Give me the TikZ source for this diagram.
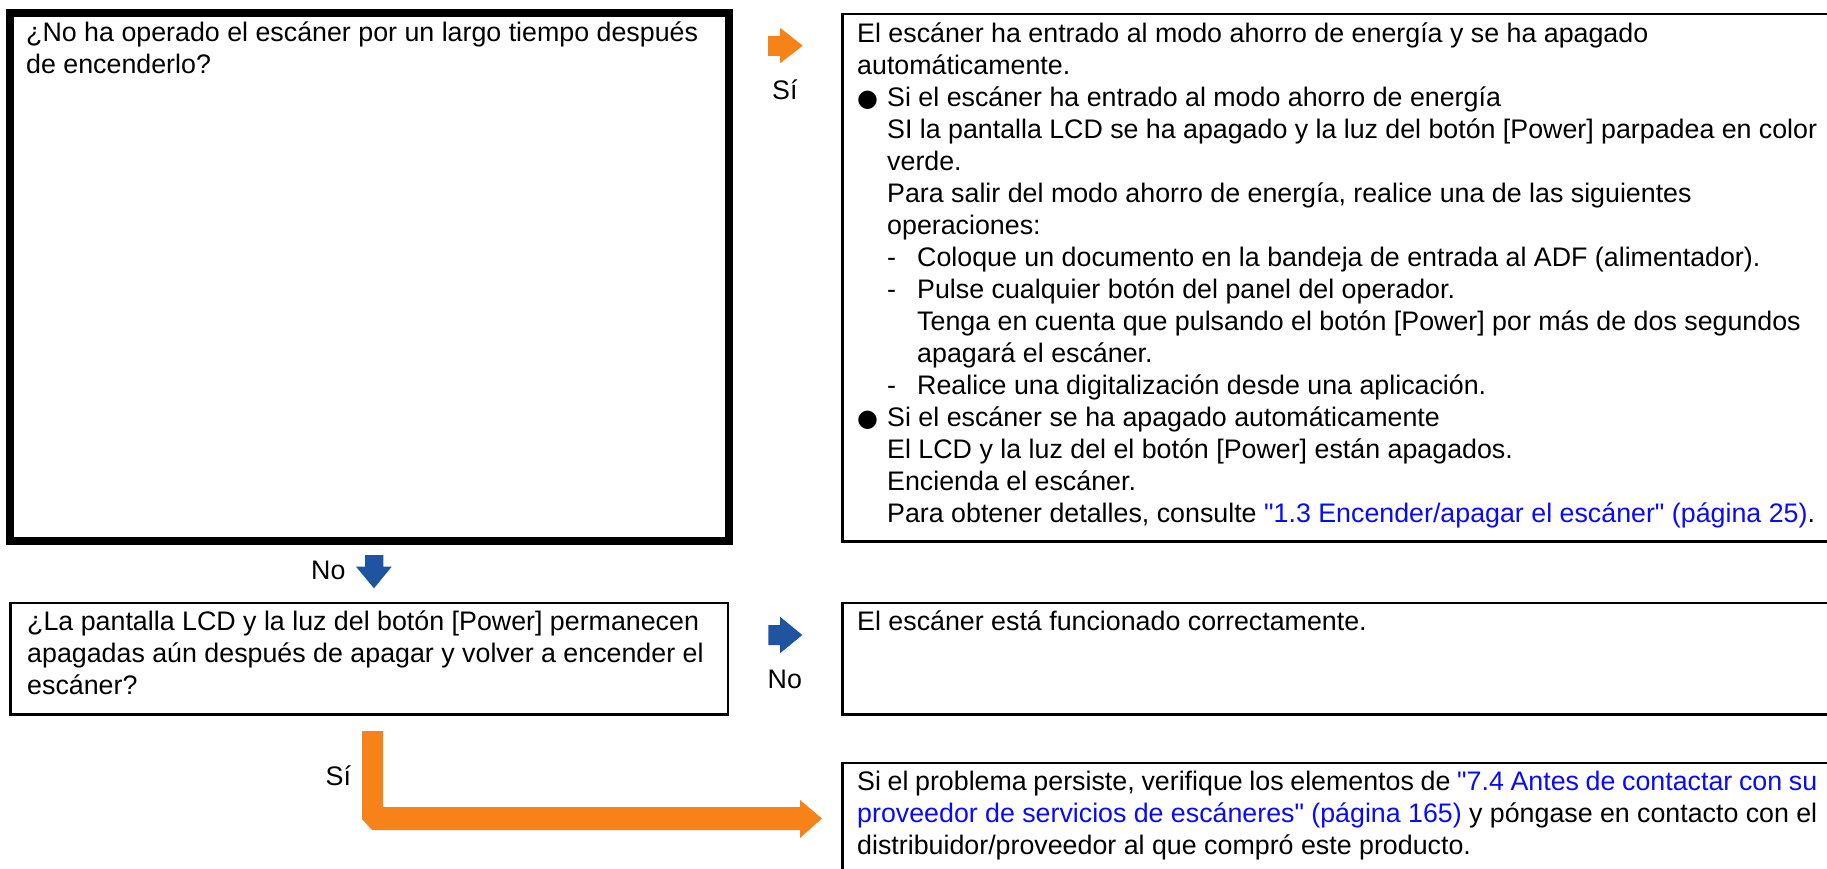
\documentclass[tikz,border=0pt]{standalone}
\usepackage{fontspec}
\setmainfont{Liberation Sans}[Ligatures=TeXOff]
\newfontfamily\symfont{DejaVu Sans}
\usepackage{xcolor}
\usetikzlibrary{positioning}

\definecolor{arrorange}{RGB}{247,130,24}
\definecolor{arrblue}{RGB}{31,84,160}
\definecolor{linkblue}{RGB}{10,10,250}

\newcommand{\bul}{\makebox[30pt][l]{\symfont\fontsize{24}{32}\selectfont ●}}
\newcommand{\dsh}{\makebox[30pt][l]{-}}
\newcommand{\ind}{\hspace*{30pt}}
\newcommand{\lnk}[1]{\textcolor{linkblue}{#1}}
\newcommand{\lines}[2]{\parbox[t]{#1}{\raggedright #2}}

\begin{document}
\begin{tikzpicture}[x=1pt, y=-1pt,
	frame/.style={draw, line width=2.6pt, anchor=north west, inner sep=0pt, outer sep=0pt},
	txt/.style={anchor=base west, inner sep=0pt,
		font=\fontsize{26.8}{32}\selectfont},
	lbl/.style={anchor=base west, inner sep=0pt, font=\fontsize{26.8}{32}\selectfont}
]
	\useasboundingbox (0,0) rectangle (1827,869);
	\clip (0,0) rectangle (1827,869);

	% First question
	\node[frame, line width=8pt, minimum width=719pt, minimum height=528pt] (q1) at (10,13) {};
	\node[txt] (q1t) at (26,41.4) {\lines{690pt}{%
		¿No ha operado el escáner por un largo tiempo después\\
		de encenderlo?}};

	% Answer to the first question
	\node[frame, minimum width=1000pt, minimum height=527.5pt] (a1) at (842.5,14) {};
	\node[txt] (a1t) at (857,42.2) {\lines{960pt}{%
		El escáner ha entrado al modo ahorro de energía y se ha apagado\\
		automáticamente.\\
		\bul Si el escáner ha entrado al modo ahorro de energía\\
		\ind SI la pantalla LCD se ha apagado y la luz del botón [Power] parpadea en color\\
		\ind verde.\\
		\ind Para salir del modo ahorro de energía, realice una de las siguientes\\
		\ind operaciones:\\
		\ind\dsh Coloque un documento en la bandeja de entrada al ADF (alimentador).\\
		\ind\dsh Pulse cualquier botón del panel del operador.\\
		\ind\ind Tenga en cuenta que pulsando el botón [Power] por más de dos segundos\\
		\ind\ind apagará el escáner.\\
		\ind\dsh Realice una digitalización desde una aplicación.\\
		\bul Si el escáner se ha apagado automáticamente\\
		\ind El LCD y la luz del el botón [Power] están apagados.\\
		\ind Encienda el escáner.\\
		\ind Para obtener detalles, consulte \lnk{"1.3 Encender/apagar el escáner" (página 25)}.}};

	% Second question
	\node[frame, minimum width=717.5pt, minimum height=111.5pt] (q2) at (10.5,603) {};
	\node[txt] (q2t) at (27,630.3) {\lines{690pt}{%
		¿La pantalla LCD y la luz del botón [Power] permanecen\\
		apagadas aún después de apagar y volver a encender el\\
		escáner?}};

	% Answers to the second question
	\node[frame, minimum width=1000pt, minimum height=111.5pt] (a2) at (842.5,603) {};
	\node[txt] (a2t) at (857,630.3) {El escáner está funcionado correctamente.};

	\node[frame, minimum width=1000pt, minimum height=150pt] (a3) at (842.5,763) {};
	\node[txt] (a3t) at (857,790.5) {\lines{960pt}{%
		Si el problema persiste, verifique los elementos de \lnk{"7.4 Antes de contactar con su}\\
		\lnk{proveedor de servicios de escáneres" (página 165)} y póngase en contacto con el\\
		distribuidor/proveedor al que compró este producto.}};

	% Yes / No arrows
	\fill[arrorange] (768,36) -- (780,36) -- (780,27.7) -- (802.7,45.7)
		-- (780,63.3) -- (780,56) -- (768,56) -- cycle;
	\node[lbl] (si1) at (772,100) {Sí};

	\fill[arrblue] (365,555) -- (383.3,555) -- (383.3,566.7) -- (391.7,566.7)
		-- (374,588.3) -- (356,566.7) -- (365,566.7) -- cycle;
	\node[lbl] (no1) at (311,579.3) {No};

	\fill[arrblue] (768.3,625) -- (780,625) -- (780,616.7) -- (802.3,635)
		-- (780,653.3) -- (780,645) -- (768.3,645) -- cycle;
	\node[lbl] (no2) at (767.5,688.3) {No};

	% Bent arrow to the last answer
	\coordinate (siTop) at (372.5,731);
	\coordinate (siTip) at (822,818.5);
	\fill[arrorange] (362,731) -- (383,731) -- (383,807) -- (800,807) -- (800,800)
		-- (siTip) -- (800,838) -- (800,830) -- (372,830) -- (362,819) -- cycle;
	\node[lbl] (si2) at (325.5,785.7) {Sí};
\end{tikzpicture}
\end{document}
